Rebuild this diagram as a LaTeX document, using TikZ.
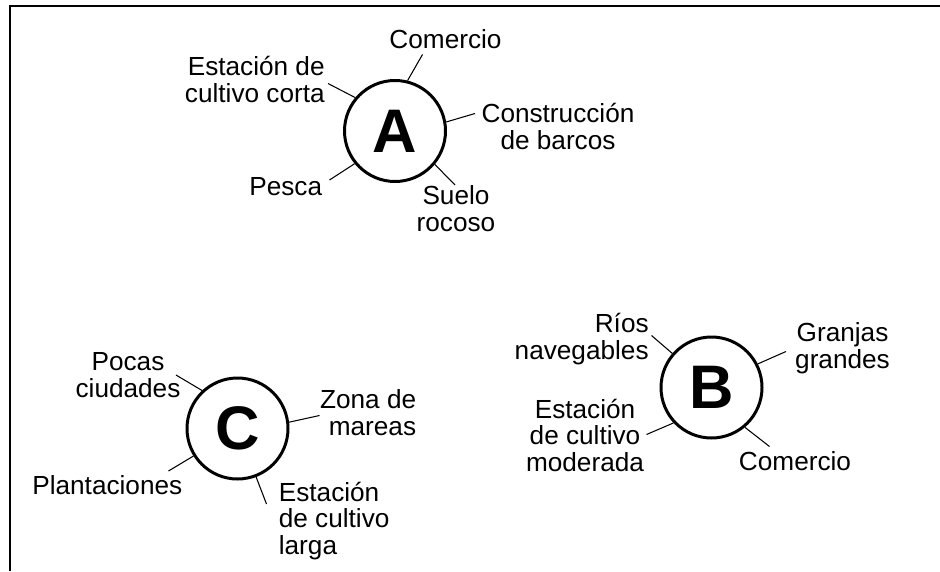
\documentclass[tikz,border=0pt]{standalone}
\usepackage{fontspec}
\setmainfont{Liberation Sans}
\begin{document}
\begin{tikzpicture}[
  zone/.style={circle,draw,line width=1.7pt,minimum size=2.02cm,inner sep=0pt,font=\fontsize{35}{35}\selectfont\bfseries},
  lbl/.style={inner sep=0pt,font=\fontsize{14.9}{15.1}\selectfont},
  tie/.style={line width=0.6pt}]
\useasboundingbox (0,0) rectangle (18.8,11.42);
%\draw[step=0.5cm,gray,very thin] (0,0) grid (18.8,11.42);
\draw[line width=1.3pt] (0.2,0) -- (0.2,11.3) -- (18.8,11.3);

%A
\node[zone] (A) at (7.90,8.80) {A};
\node[lbl,anchor=base east,align=right] (corta) at (6.50,9.37) {Estación de\\cultivo corta};
\node[lbl,anchor=base east] (pesca) at (6.45,7.51) {Pesca};
\node[lbl,anchor=base] (comA) at (8.91,10.44) {Comercio};
\node[lbl,anchor=base,align=center] (barcos) at (11.16,8.44) {Construcción\\de barcos};
\node[lbl,anchor=base,align=center] (suelo) at (9.12,6.79) {Suelo\\rocoso};
\coordinate (a1) at (6.56,9.75);
\coordinate (a2) at (6.59,7.82);
\coordinate (a3) at (8.45,10.33);
\coordinate (a4) at (9.50,9.15);
\coordinate (a5) at (9.10,7.72);
\draw[tie] (A.140.7) -- (a1);
\draw[tie] (A.219.3) -- (a2);
\draw[tie] (A.76.5) -- (a3);
\draw[tie] (A.10.2) -- (a4);
\draw[tie] (A.320) -- (a5);

%C
\node[zone] (C) at (4.75,2.85) {C};
\node[lbl,anchor=base,align=center] (pocas) at (2.56,3.48) {Pocas\\ciudades};
\node[lbl,anchor=base east,align=right] (zona) at (8.33,2.72) {Zona de\\mareas};
\node[lbl,anchor=base west] (plant) at (0.64,1.53) {Plantaciones};
\node[lbl,anchor=base west,align=left] (larga) at (5.57,0.33) {Estación\\de cultivo\\larga};
\coordinate (c1) at (3.52,3.92);
\coordinate (c2) at (6.39,3.11);
\coordinate (c3) at (3.37,2.00);
\coordinate (c4) at (5.33,1.34);
\draw[tie] (C.133.2) -- (c1);
\draw[tie] (C.7.2) -- (c2);
\draw[tie] (C.212.5) -- (c3);
\draw[tie] (C.291.7) -- (c4);

%B
\node[zone] (B) at (14.23,3.67) {B};
\node[lbl,anchor=base east,align=right] (rios) at (12.98,4.24) {Ríos\\navegables};
\node[lbl,anchor=base,align=center] (granjas) at (16.85,4.06) {Granjas\\grandes};
\node[lbl,anchor=base,align=center] (moder) at (11.70,1.99) {Estación\\de cultivo\\moderada};
\node[lbl,anchor=base] (comB) at (15.90,2.01) {Comercio};
\coordinate (b1) at (13.03,4.71);
\coordinate (b2) at (15.72,4.39);
\coordinate (b3) at (12.93,2.73);
\coordinate (b4) at (15.39,2.49);
\draw[tie] (B.139.9) -- (b1);
\draw[tie] (B.27.3) -- (b2);
\draw[tie] (B.223.9) -- (b3);
\draw[tie] (B.310.3) -- (b4);

\end{tikzpicture}
\end{document}
